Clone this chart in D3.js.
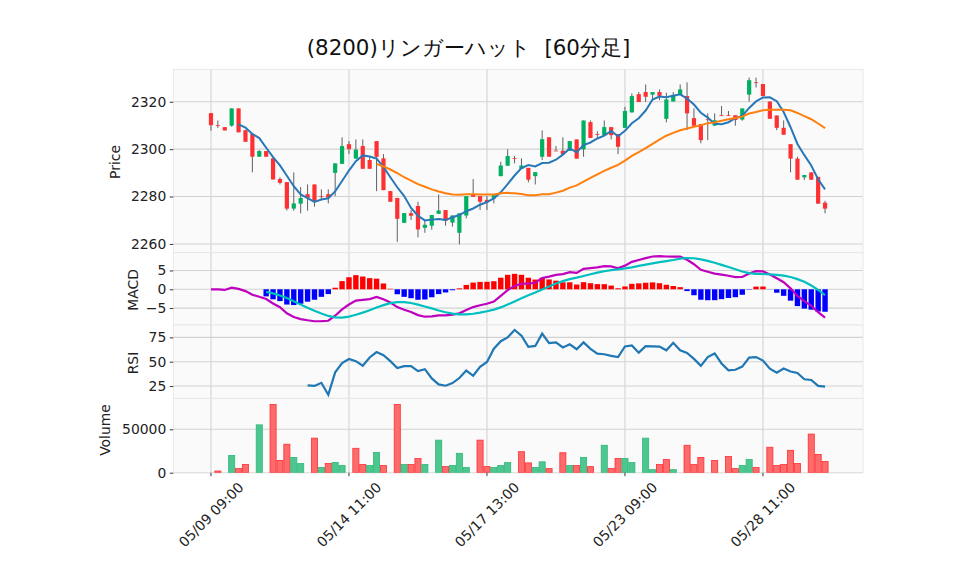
<!DOCTYPE html>
<html><head><meta charset="utf-8">
<script src="https://cdn.jsdelivr.net/npm/d3@7"></script>
<style>
body{margin:0;background:#fff}
text{font-family:"DejaVu Sans",sans-serif}
</style>
</head><body>
<svg id="c" width="958" height="575"></svg>
<script>
const title = "(8200)リンガーハット  [60分足]";
const days = ["05/09","05/10","05/13","05/14","05/15","05/16","05/17","05/20","05/21","05/22","05/23","05/24","05/27","05/28","05/29"];
const hours = ["09:00","10:00","11:00","12:00","13:00","14:00"];
const opens = [2315.2,2310.1,2309.3,2309.9,2317.2,2308.0,2306.4,2296.8,2299.2,2296.1,
2287.4,2286.1,2274.9,2277.0,2281.0,2285.1,2280.1,2281.0,2290.0,2293.8,
2302.1,2296.0,2301.3,2295.4,2303.4,2296.1,2282.3,2279.4,2268.9,2273.0,
2276.0,2266.8,2267.7,2272.7,2274.3,2269.0,2264.7,2272.0,2281.0,2280.2,
2278.6,2279.2,2288.6,2293.0,2296.2,2291.7,2292.1,2288.6,2296.8,2305.0,
2299.4,2299.3,2299.3,2304.1,2299.9,2311.4,2306.4,2305.9,2309.3,2306.4,
2309.0,2315.5,2323.2,2324.1,2323.0,2324.1,2312.8,2320.1,2322.9,2322.4,
2313.1,2310.6,2312.6,2309.9,2314.3,2314.3,2314.3,2312.5,2323.0,2328.2,
2327.5,2320.1,2314.2,2309.0,2302.1,2296.0,2288.1,2290.2,2288.3,2277.4];
const highs = [2315.2,2312.1,2309.3,2317.2,2317.2,2308.0,2306.4,2299.6,2299.2,2296.8,
2288.1,2286.1,2290.2,2284.0,2285.1,2285.1,2283.0,2283.0,2294.0,2305.0,
2303.4,2304.1,2304.1,2296.8,2303.4,2297.9,2282.3,2279.4,2273.0,2274.3,
2277.8,2270.3,2272.2,2280.9,2274.3,2272.0,2272.9,2280.2,2287.4,2280.2,
2280.2,2280.6,2294.7,2299.9,2297.1,2296.1,2292.1,2290.3,2307.9,2305.0,
2301.3,2305.0,2303.4,2304.1,2312.1,2312.1,2307.5,2312.1,2309.3,2306.4,
2317.9,2323.5,2324.1,2327.3,2324.1,2325.2,2323.8,2324.1,2327.3,2328.2,
2317.2,2310.6,2315.1,2315.1,2318.2,2316.1,2314.3,2317.2,2330.2,2330.2,
2327.5,2320.1,2314.2,2312.1,2302.1,2296.8,2289.1,2290.2,2288.3,2278.2];
const lows = [2307.8,2309.0,2307.9,2309.5,2307.1,2303.1,2290.2,2296.8,2296.8,2287.2,
2285.1,2274.1,2274.0,2272.9,2274.0,2275.7,2278.5,2277.1,2280.2,2293.8,
2297.9,2296.0,2291.7,2291.7,2282.3,2282.7,2277.8,2260.9,2268.9,2270.1,
2262.8,2264.7,2266.0,2272.7,2267.7,2267.3,2259.8,2270.8,2279.9,2274.3,
2274.3,2277.1,2288.6,2293.0,2294.0,2291.7,2286.0,2285.1,2295.4,2296.8,
2299.3,2297.9,2299.3,2296.0,2296.8,2304.7,2304.9,2305.9,2304.1,2297.9,
2309.0,2315.5,2319.9,2319.9,2321.0,2320.7,2311.3,2320.1,2322.9,2308.0,
2309.9,2302.5,2303.8,2309.9,2314.2,2314.1,2309.9,2312.0,2320.1,2326.0,
2322.4,2312.8,2308.0,2306.1,2290.2,2287.1,2287.0,2287.1,2277.0,2272.9];
const closes = [2310.1,2310.0,2307.9,2317.2,2307.1,2303.1,2296.8,2299.2,2296.8,2287.2,
2285.8,2274.9,2277.1,2279.4,2279.4,2278.0,2280.0,2279.5,2294.0,2301.3,
2300.0,2299.8,2291.7,2291.7,2296.8,2282.7,2277.8,2270.6,2273.0,2271.9,
2266.1,2268.1,2272.2,2274.1,2269.8,2272.0,2272.9,2280.2,2279.9,2277.8,
2277.6,2280.6,2293.1,2297.1,2296.0,2293.1,2287.1,2290.3,2304.2,2296.8,
2299.3,2297.9,2303.4,2296.0,2312.1,2304.7,2306.3,2309.3,2305.9,2301.0,
2316.1,2322.4,2319.9,2322.1,2324.1,2322.5,2321.0,2322.9,2325.2,2315.1,
2309.9,2303.8,2312.5,2312.2,2314.2,2314.1,2312.3,2317.2,2329.1,2328.0,
2322.4,2312.8,2309.0,2306.1,2296.0,2287.1,2289.1,2287.1,2277.0,2274.9];
const volumes = [0,1950,0,19900,4700,9400,0,55100,0,78500,
14100,32800,17600,10500,0,39800,5900,10500,11700,8200,
0,28100,9400,8200,23400,8200,0,78500,9400,9400,
16400,9400,0,37500,7000,8200,22300,5900,0,37500,
7000,5900,8200,11700,0,24200,11300,5900,12500,4700,
0,23000,8200,8200,17600,7000,0,31600,4700,16400,
16400,11700,0,39800,3500,9400,15200,3500,0,31600,
9400,17600,0,14100,0,18700,4700,8200,15200,5900,
0,29300,8200,9400,25800,10500,0,44500,21100,12900];
const tickIdx = [0,20,40,60,80];
const priceTicks = [2260,2280,2300,2320];
const macdTicks = [-5,0,5];
const rsiTicks = [25,50,75];
const volTicks = [0,50000];

// indicators derived from closes
function sma(a,n){return a.map((v,i)=>{if(i<n-1||a.slice(i-n+1,i+1).some(x=>x==null))return null;let s=0;for(let k=i-n+1;k<=i;k++)s+=a[k];return s/n;});}
function ema(a,n){const al=2/(n+1);const out=[];a.forEach((v,i)=>{out.push(i===0?v:out[i-1]+al*(v-out[i-1]));});return out;}
const ma5 = sma(closes,5), ma25 = sma(closes,25);
const e12 = ema(closes,12), e26 = ema(closes,26);
const macd = e12.map((v,i)=>v-e26[i]);
const signal = sma(macd,9);
const hist = macd.map((v,i)=>signal[i]==null?null:v-signal[i]);
const rsi = closes.map((c,i)=>{if(i<14)return null;let g=0,l=0;for(let k=i-13;k<=i;k++){const d=closes[k]-closes[k-1];if(d>0)g+=d;else l-=d;}return 100*g/(g+l);});

const labels = closes.map((c,i)=>days[Math.floor(i/6)]+" "+hours[i%6]);

const svg = d3.select("#c");
const L=173.3, R=863;
const x = d3.scaleLinear().domain([-5.46,94.5]).range([L,R]);
const panels = {
  price:{top:69.3,bot:252.7},
  macd:{top:252.7,bot:325},
  rsi:{top:325,bot:398.3},
  vol:{top:398.3,bot:472.7}
};
const yP = d3.scaleLinear().domain([2256.3,2333.7]).range([panels.price.bot,panels.price.top]);
const yM = d3.scaleLinear().domain([-9.5,9.73]).range([panels.macd.bot,panels.macd.top]);
const yR = d3.scaleLinear().domain([12.4,87.7]).range([panels.rsi.bot,panels.rsi.top]);
const yV = d3.scaleLinear().domain([0,85700]).range([panels.vol.bot,panels.vol.top]);

const gridC = "#d2d2d2";
function panel(name, y, ticks, label, labelX){
  const p = panels[name];
  svg.append("rect").attr("x",L).attr("y",p.top).attr("width",R-L).attr("height",p.bot-p.top)
    .attr("fill","#fafafa");
  svg.append("clipPath").attr("id","clip-"+name).append("rect")
    .attr("x",L).attr("y",p.top).attr("width",R-L).attr("height",p.bot-p.top);
  const g = svg.append("g");
  g.selectAll(".hg").data(ticks).enter().append("line")
    .attr("x1",L).attr("x2",R).attr("y1",d=>y(d)).attr("y2",d=>y(d))
    .attr("stroke",gridC).attr("stroke-width",1.1);
  g.selectAll(".vg").data(tickIdx).enter().append("line")
    .attr("x1",d=>x(d)).attr("x2",d=>x(d)).attr("y1",p.top).attr("y2",p.bot)
    .attr("stroke",gridC).attr("stroke-width",1.1);
  svg.append("rect").attr("x",L).attr("y",p.top).attr("width",R-L).attr("height",p.bot-p.top)
    .attr("fill","none").attr("stroke","#e4e4e4").attr("stroke-width",0.8);
  const ax = svg.append("g").attr("transform",`translate(${L},0)`)
    .call(d3.axisLeft(y).tickValues(ticks).tickFormat(d3.format("d")).tickSize(3.5).tickPadding(3.5));
  ax.select(".domain").remove();
  ax.selectAll("line").attr("stroke","#222").attr("stroke-width",0.9);
  ax.selectAll("text").attr("font-size","13.9px").attr("fill","#222").attr("font-family","DejaVu Sans");
  const cy=(p.top+p.bot)/2;
  svg.append("text").attr("transform",`translate(${labelX},${label.cy||cy}) rotate(-90)`)
    .attr("text-anchor","middle").attr("font-size","13.9px").attr("fill","#222").text(label.t);
  return svg.append("g").attr("clip-path",`url(#clip-${name})`);
}

const gP = panel("price", yP, priceTicks, {t:"Price",cy:162}, 120);
const gM = panel("macd", yM, macdTicks, {t:"MACD",cy:290}, 137.5);
const gR = panel("rsi", yR, rsiTicks, {t:"RSI",cy:363}, 137.5);
const gV = panel("vol", yV, volTicks, {t:"Volume",cy:430}, 110);

// candles
const up="#00b060", dn="#fe3032";
const idx = d3.range(closes.length);
gP.selectAll(".wick").data(idx).enter().append("line")
  .attr("x1",i=>x(i)).attr("x2",i=>x(i)).attr("y1",i=>yP(highs[i])).attr("y2",i=>yP(lows[i]))
  .attr("stroke","#606060").attr("stroke-width",1);
const bw = 4.2;
gP.selectAll(".body").data(idx).enter().append("rect")
  .attr("x",i=>x(i)-bw/2).attr("width",bw)
  .attr("y",i=>yP(Math.max(opens[i],closes[i])))
  .attr("height",i=>Math.max(0.8,Math.abs(yP(opens[i])-yP(closes[i]))))
  .attr("fill",i=>closes[i]>opens[i]?up:dn);

const lineP = (arr,y)=>d3.line().defined((d,i)=>arr[i]!=null).x((d,i)=>x(i)).y((d,i)=>y(arr[i]));
gP.append("path").datum(closes).attr("d",lineP(ma5,yP)).attr("fill","none").attr("stroke","#2878b8").attr("stroke-width",2);
gP.append("path").datum(closes).attr("d",lineP(ma25,yP)).attr("fill","none").attr("stroke","#ff7f0e").attr("stroke-width",2);

// MACD
const hw = 5.4;
gM.selectAll(".h").data(idx.filter(i=>hist[i]!=null)).enter().append("rect")
  .attr("x",i=>x(i)-hw/2).attr("width",hw)
  .attr("y",i=>Math.min(yM(0),yM(hist[i])))
  .attr("height",i=>Math.abs(yM(hist[i])-yM(0)))
  .attr("fill",i=>hist[i]>=0?"#ff0000":"#0000ff");
gM.append("path").datum(closes).attr("d",lineP(macd,yM)).attr("fill","none").attr("stroke","#bf00bf").attr("stroke-width",2.2);
gM.append("path").datum(closes).attr("d",lineP(signal,yM)).attr("fill","none").attr("stroke","#00bfbf").attr("stroke-width",2.2);

// RSI
gR.append("path").datum(closes).attr("d",lineP(rsi,yR)).attr("fill","none").attr("stroke","#1f77b4").attr("stroke-width",2.2);

// Volume
const vw = 6.1;
gV.selectAll(".v").data(idx.filter(i=>volumes[i]>0)).enter().append("rect")
  .attr("x",i=>x(i)-vw/2).attr("width",vw)
  .attr("y",i=>yV(volumes[i])).attr("height",i=>yV(0)-yV(volumes[i]))
  .attr("fill",i=>(i>0&&closes[i]<closes[i-1])?"#fd6b6c":"#4dc790")
  .attr("stroke",i=>(i>0&&closes[i]<closes[i-1])?"#fe3032":"#2fb778")
  .attr("stroke-width",0.8);

// x axis ticks & labels
const xt = svg.append("g");
xt.selectAll("line").data(tickIdx).enter().append("line")
  .attr("x1",i=>x(i)).attr("x2",i=>x(i)).attr("y1",panels.vol.bot).attr("y2",panels.vol.bot+3.5)
  .attr("stroke","#222").attr("stroke-width",0.9);
xt.selectAll("text").data(tickIdx).enter().append("text")
  .attr("font-size","13.9px").attr("fill","#222").attr("text-anchor","middle")
  .attr("dominant-baseline","central")
  .text(i=>labels[i])
  .each(function(i){
    const w=this.getComputedTextLength(), h=13.9;
    const bh=(w+h)/Math.SQRT2;
    const cy=panels.vol.bot+3.5+3.5+bh/2;
    d3.select(this).attr("transform",`translate(${x(i)},${cy}) rotate(-45)`);
  });

// title
svg.append("text").attr("x",468.5).attr("y",55).attr("text-anchor","middle")
  .attr("font-family","'Noto Sans CJK JP',sans-serif").attr("font-size","21.4px").attr("fill","#111")
  .style("white-space","pre")
  .text(title);
</script>
</body></html>
